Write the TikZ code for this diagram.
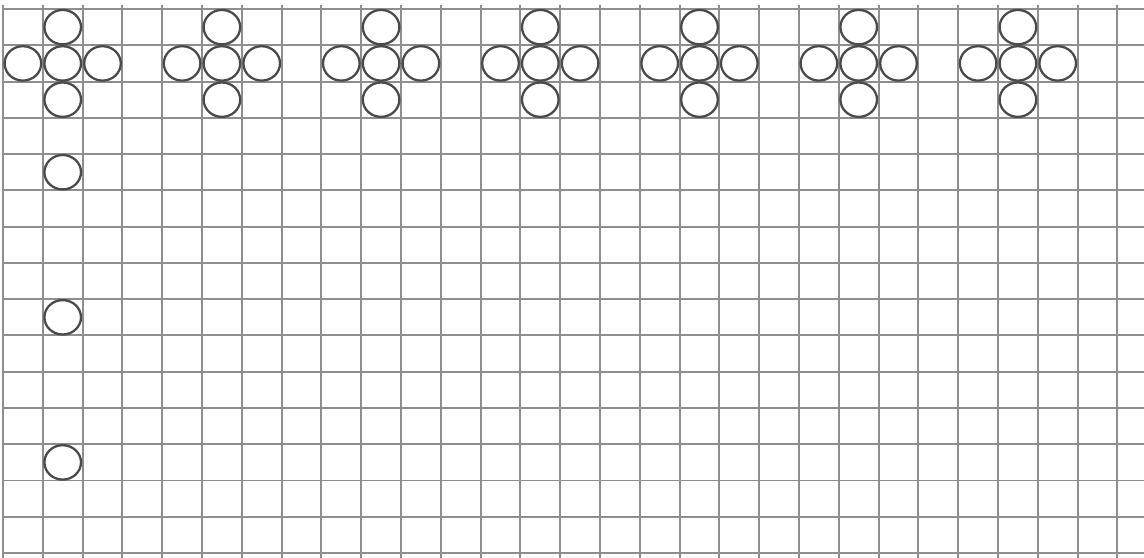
\documentclass[tikz,border=0pt]{standalone}
\usepackage{xcolor}
\usepackage{tikz}
\definecolor{GridGray}{HTML}{8E8E8E}
\definecolor{PegInk}{HTML}{4A4A4A}

\begin{document}
\begin{tikzpicture}[x=0.398cm, y=-0.3627cm,
        gridline/.style={GridGray, line width=0.55pt},
        peg/.style={PegInk, line width=0.65pt, fill=white}]
        \useasboundingbox[fill=white] (-0.0754,-0.248) rectangle (28.668,15.136);
        % squared paper
        \foreach \c in {0,...,28}
            \draw[gridline] (\c,-0.11) -- (\c,15.136);
        \foreach \r in {0,...,15}
            \draw[gridline] (0,\r) -- (28.668,\r);
        % crosses of five
        \foreach \c in {1,5,...,25}
            \foreach \dx/\dy in {0/0,-1/0,1/0,0/-1,0/1}
                \draw[peg] (\c+0.5+\dx,1.5+\dy) ellipse (0.183cm and 0.172cm);
        % single column below the first cross
        \foreach \r in {4,8,12}
            \draw[peg] (1.5,\r+0.5) ellipse (0.183cm and 0.172cm);
    \end{tikzpicture}
\end{document}
